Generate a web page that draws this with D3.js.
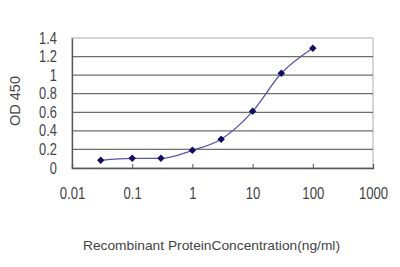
<!DOCTYPE html>
<head>
  <meta charset="utf-8">
  <script src="https://d3js.org/d3.v7.min.js"></script>
  <style>
    body { margin: 0; background: #fff; }
    text { font-family: Arial, "Liberation Sans", sans-serif; fill: #444; }
  </style>
</head>
<body>
  <div id="chart"></div>
  <script>
    var width = 400;
    var height = 267;

    // data
    var concentrations = [0.03, 0.1, 0.3, 1, 3, 10, 30, 100];
    var odValues = [0.083, 0.104, 0.104, 0.19, 0.31, 0.61, 1.02, 1.29];
    var xTicks = [0.01, 0.1, 1, 10, 100, 1000];
    var xTickLabels = ["0.01", "0.1", "1", "10", "100", "1000"];
    var yTicks = [0, 0.2, 0.4, 0.6, 0.8, 1, 1.2, 1.4];

    var margin = { top: 38, right: 27, bottom: 99, left: 72 };
    var w = width - margin.left - margin.right;
    var h = height - margin.top - margin.bottom;

    var svg = d3.select("#chart").append("svg")
      .attr("width", width)
      .attr("height", height);

    var g = svg.append("g")
      .attr("transform", "translate(" + margin.left + "," + margin.top + ")");

    var x = d3.scaleLog().domain([0.01, 1000]).range([0, w]);
    var y = d3.scaleLinear().domain([0, 1.4]).range([h, 0]);

    // plot border (light)
    g.append("rect")
      .attr("x", 0).attr("y", 0)
      .attr("width", w).attr("height", h)
      .attr("fill", "none")
      .attr("stroke", "#c8c8c8")
      .attr("stroke-width", 1.5);

    // horizontal gridlines
    g.selectAll(".grid")
      .data(yTicks.slice(1, -1))
      .enter().append("line")
      .attr("class", "grid")
      .attr("x1", 0).attr("x2", w)
      .attr("y1", function(d) { return y(d); })
      .attr("y2", function(d) { return y(d); })
      .attr("stroke", "#6e6e6e")
      .attr("stroke-width", 1.3);

    // y axis
    var yAxis = g.append("g")
      .call(d3.axisLeft(y).tickValues(yTicks).tickSize(0).tickPadding(8)
        .tickFormat(function(d) { return d3.format("")(+d.toFixed(1)); }));
    yAxis.select(".domain").attr("stroke", "#555").attr("stroke-width", 1.3);
    yAxis.selectAll("text")
      .style("font-size", "16px")
      .attr("fill", "#555")
      .attr("transform", "scale(0.8,1)")
      .attr("x", -19);

    // x axis
    var xAxis = g.append("g")
      .attr("transform", "translate(0," + h + ")")
      .call(d3.axisBottom(x).tickValues(xTicks).tickSize(-4).tickPadding(20)
        .tickFormat(function(d, i) { return xTickLabels[i]; }));
    xAxis.select(".domain").attr("stroke", "#555").attr("stroke-width", 1.3);
    xAxis.selectAll(".tick line").attr("stroke", "#555");
    xAxis.selectAll(".tick").each(function(d) {
      var t = d3.select(this).select("text");
      t.style("font-size", "16px")
        .attr("fill", "#555")
        .attr("transform", "scale(0.82,1)");
    });

    // y title
    svg.append("text")
      .attr("transform", "translate(20," + 101 + ") rotate(-90)")
      .attr("text-anchor", "middle")
      .style("font-size", "14.5px")
      .attr("fill", "#555")
      .text("OD 450");

    // x title
    svg.append("text")
      .attr("x", 83)
      .attr("y", 250)
      .attr("textLength", 257)
      .attr("lengthAdjust", "spacingAndGlyphs")
      .style("font-size", "13.5px")
      .attr("fill", "#444")
      .text("Recombinant ProteinConcentration(ng/ml)");

    // series line
    var pts = concentrations.map(function(c, i) { return [c, odValues[i]]; });
    var line = d3.line()
      .x(function(d) { return x(d[0]); })
      .y(function(d) { return y(d[1]); })
      .curve(d3.curveMonotoneX);

    g.append("path")
      .datum(pts)
      .attr("d", line)
      .attr("fill", "none")
      .attr("stroke", "#5555aa")
      .attr("stroke-width", 1.3);

    // diamond markers
    g.selectAll(".pt")
      .data(pts)
      .enter().append("path")
      .attr("class", "pt")
      .attr("transform", function(d) { return "translate(" + x(d[0]) + "," + y(d[1]) + ") rotate(45)"; })
      .attr("d", d3.symbol().type(d3.symbolSquare).size(28))
      .attr("fill", "#101060");
  </script>
</body>
